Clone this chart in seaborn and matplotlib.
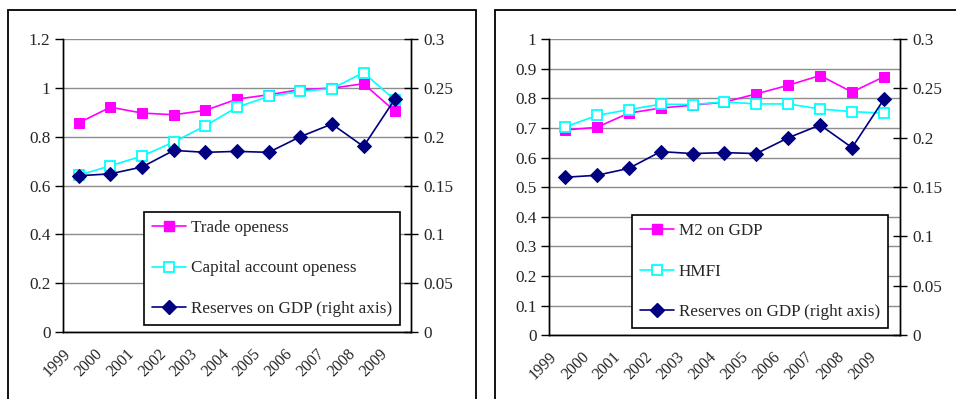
import numpy as np
import pandas as pd
import matplotlib
matplotlib.use("Agg")
import matplotlib.pyplot as plt
from matplotlib.lines import Line2D
from matplotlib.patches import Rectangle
import seaborn as sns

years = ["1999", "2000", "2001", "2002", "2003", "2004", "2005", "2006", "2007", "2008", "2009"]

trade_openness = [0.857, 0.921, 0.897, 0.890, 0.908, 0.954, 0.972, 0.993, 0.999, 1.017, 0.904]
capital_openness = [0.642, 0.681, 0.721, 0.778, 0.845, 0.921, 0.965, 0.986, 0.997, 1.063, 0.949]
m2_on_gdp = [0.693, 0.702, 0.750, 0.767, 0.777, 0.787, 0.815, 0.844, 0.877, 0.821, 0.873]
hmfi = [0.703, 0.742, 0.762, 0.780, 0.779, 0.788, 0.781, 0.781, 0.764, 0.755, 0.750]
reserves_on_gdp = [0.160, 0.162, 0.169, 0.186, 0.184, 0.185, 0.184, 0.200, 0.213, 0.190, 0.239]

sns.set_theme(style="white")
plt.rcParams["font.family"] = ["Liberation Serif", "DejaVu Serif"]
plt.rcParams["font.size"] = 12.5
plt.rcParams["xtick.labelsize"] = 11.5
plt.rcParams["ytick.labelsize"] = 12.4

MAGENTA = "#FF00FF"
CYAN = "#00FFFF"
NAVY = "#000080"

fig = plt.figure(figsize=(9.56, 3.99), dpi=100)

# panel frames
fig.patches.append(Rectangle((0.0084, -0.05), 0.4895, 1.025, transform=fig.transFigure,
                             fill=False, edgecolor="black", linewidth=1.3))
fig.patches.append(Rectangle((0.518, -0.05), 0.6, 1.025, transform=fig.transFigure,
                             fill=False, edgecolor="black", linewidth=1.3))

xpos = np.arange(len(years)) + 0.5


def panel(rect, s1, s2, labels, ymax, ystep, legend_anchor):
    ax = fig.add_axes(rect)
    ax2 = ax.twinx()
    df = pd.DataFrame({"x": xpos, "a": s1, "b": s2, "r": reserves_on_gdp})

    sns.lineplot(data=df, x="x", y="a", ax=ax, color=MAGENTA, marker="s", markersize=7.5,
                 markeredgecolor=MAGENTA, linewidth=1.2, zorder=3)
    sns.lineplot(data=df, x="x", y="b", ax=ax, color=CYAN, marker="s", markersize=7.5,
                 markerfacecolor="white", markeredgecolor=CYAN, markeredgewidth=1.3,
                 linewidth=1.2, zorder=3)
    sns.lineplot(data=df, x="x", y="r", ax=ax2, color=NAVY, marker="D", markersize=7,
                 markeredgecolor=NAVY, linewidth=1.2, zorder=3)

    ax.set_xlim(0, len(years))
    ax.set_ylim(0, ymax)
    ax2.set_ylim(0, 0.3)
    yt = np.round(np.arange(0, ymax + ystep / 2, ystep), 2)
    ax.set_yticks(yt)
    ax.set_yticklabels([f"{v:g}" for v in yt])
    rt = np.round(np.arange(0, 0.301, 0.05), 2)
    ax2.set_yticks(rt)
    ax2.set_yticklabels([f"{v:g}" for v in rt])

    ax.set_xticks(np.arange(len(years) + 1))
    ax.set_xticklabels(years + [""], rotation=45, ha="right", rotation_mode="anchor")

    ax.set_xlabel("")
    ax.set_ylabel("")
    ax2.set_ylabel("")
    ax.grid(axis="y", color="#8c8c8c", linewidth=1.0)
    ax.grid(axis="x", visible=False)
    ax2.grid(False)

    for a in (ax, ax2):
        a.spines["top"].set_visible(False)
        a.spines["left"].set_color("black")
        a.spines["right"].set_color("black")
        a.spines["bottom"].set_color("black")
        for sp in a.spines.values():
            sp.set_linewidth(1.0)
    ax.tick_params(axis="y", direction="out", length=6, width=1, color="black", pad=3)
    ax.tick_params(axis="x", direction="out", length=5, width=1, color="black", pad=5)
    ax2.tick_params(axis="y", direction="inout", length=10, width=1, color="black", pad=4)

    handles = [
        Line2D([], [], color=MAGENTA, marker="s", markersize=7.5, linewidth=1.2),
        Line2D([], [], color=CYAN, marker="s", markersize=7.5, markerfacecolor="white",
               markeredgewidth=1.3, linewidth=1.2),
        Line2D([], [], color=NAVY, marker="D", markersize=7, linewidth=1.2),
    ]
    leg = ax2.legend(handles, labels, loc="lower left", bbox_to_anchor=legend_anchor,
                     borderaxespad=0, frameon=True, fancybox=False, framealpha=1,
                     edgecolor="black", labelspacing=1.45, handlelength=2.0,
                     handletextpad=0.3, borderpad=0.45, fontsize=12.3)
    leg.get_frame().set_linewidth(1.2)
    return ax, ax2


panel([0.0659, 0.168, 0.364, 0.734], trade_openness, capital_openness,
      ["Trade openess", "Capital account openess", "Reserves on GDP (right axis)"],
      1.2, 0.2, (0.233, 0.024))

panel([0.5743, 0.160, 0.367, 0.742], m2_on_gdp, hmfi,
      ["M2 on GDP", "HMFI", "Reserves on GDP (right axis)"],
      1.0, 0.1, (0.236, 0.024))

fig.savefig("out.png", dpi=100)
